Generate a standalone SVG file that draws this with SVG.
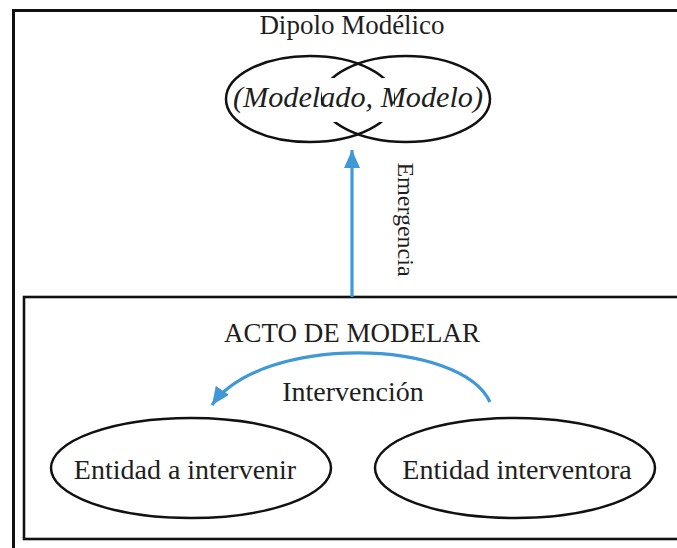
<svg xmlns="http://www.w3.org/2000/svg" width="677" height="548" viewBox="0 0 677 548">
  <defs>
    <marker id="arrow" markerUnits="userSpaceOnUse" markerWidth="20" markerHeight="18" refX="18" refY="8" orient="auto">
      <path d="M0,0 L18,8 L0,16 Z" fill="#3f98d8"/>
    </marker>
    <style>
      .t { fill: #1e1e1e; text-anchor: middle; }
      .node { fill: none; stroke: #111; stroke-width: 2.5; }
      .conn { fill: none; stroke: #3f98d8; stroke-width: 3.2; }
      .frame { fill: none; stroke: #111; }
    </style>
  </defs>
  <rect width="677" height="548" fill="#fff"/>

  <rect id="outer-frame" class="frame" x="13.5" y="10.5" width="680" height="560" stroke-width="3"/>

  <g id="dipolo" font-family="'Liberation Serif', 'Times New Roman', serif">
    <text class="t" x="352" y="34" font-size="27">Dipolo Modélico</text>
    <ellipse class="node" cx="310" cy="99" rx="84" ry="43"/>
    <ellipse class="node" cx="406" cy="99" rx="84" ry="43"/>
    <rect x="322" y="78" width="72" height="44" fill="#fff"/>
    <text class="t" x="358" y="107" font-size="29" font-style="italic" textLength="250" lengthAdjust="spacingAndGlyphs">(Modelado, Modelo)</text>
  </g>

  <g id="acto" font-family="'Liberation Serif', 'Times New Roman', serif">
    <rect class="frame" x="24" y="297" width="670" height="242" stroke-width="2.6"/>
    <text class="t" x="352" y="342" font-size="27">ACTO DE MODELAR</text>
  </g>

  <g id="entidad-a-intervenir" font-family="'Liberation Serif', 'Times New Roman', serif">
    <ellipse class="node" cx="191" cy="468" rx="140" ry="50"/>
    <text class="t" x="185" y="479" font-size="28">Entidad a intervenir</text>
  </g>

  <g id="entidad-interventora" font-family="'Liberation Serif', 'Times New Roman', serif">
    <ellipse class="node" cx="515" cy="468" rx="140" ry="50"/>
    <text class="t" x="517" y="479" font-size="28">Entidad interventora</text>
  </g>

  <g id="connectors" font-family="'Liberation Serif', 'Times New Roman', serif">
    <line class="conn" x1="352" y1="297" x2="352" y2="150" marker-end="url(#arrow)"/>
    <text class="t" font-size="24" transform="translate(398,219.5) rotate(90)" x="0" y="0">Emergencia</text>
    <path class="conn" d="M490,402 C460,338 262,334 212,405" marker-end="url(#arrow)"/>
    <text class="t" x="353" y="401" font-size="28">Intervención</text>
  </g>
</svg>
